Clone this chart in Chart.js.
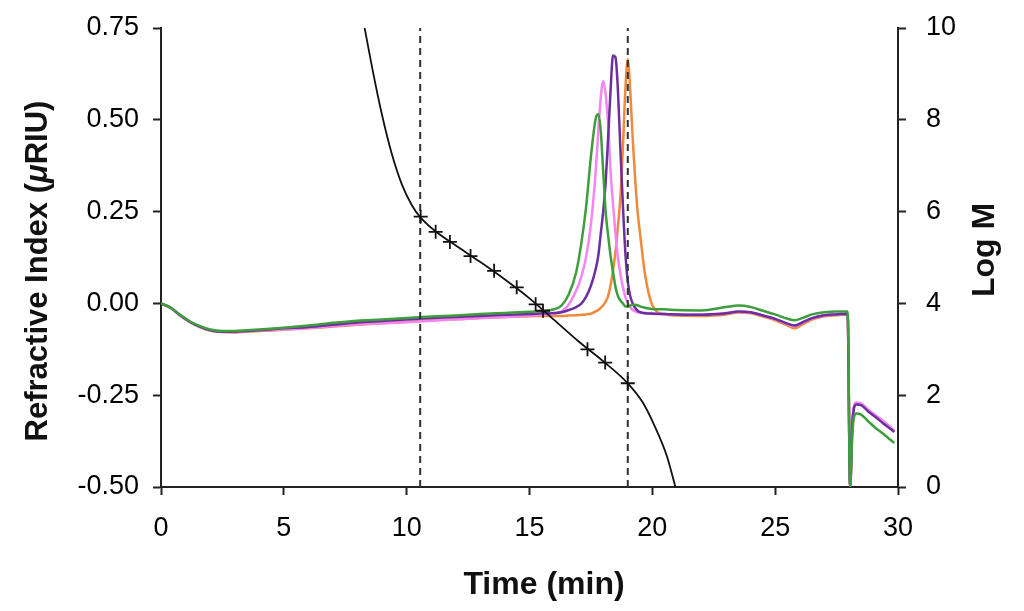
<!DOCTYPE html>
<html>
<head>
<meta charset="utf-8">
<script src="https://cdn.jsdelivr.net/npm/chart.js@4.4.1/dist/chart.umd.min.js"></script>
<style>
  html, body { margin: 0; padding: 0; background: #fff; }
  #wrap { width: 1024px; height: 611px; position: relative; }
</style>
</head>
<body>
<div id="wrap"><canvas id="gpcChart"></canvas></div>
<script>
// elution time grid (min), shared by the four RI traces
const times = [0, 0.4, 0.8, 1.2, 1.6, 2, 2.5, 3, 3.5, 4,
  5, 6, 7, 8, 9, 10, 11, 12, 13, 14,
  15, 15.5, 16, 16.3, 16.6, 16.9, 17.1, 17.3, 17.5, 17.7,
  17.8, 17.9, 18.0, 18.1, 18.2, 18.3, 18.4, 18.5, 18.6, 18.7,
  18.8, 18.9, 19.0, 19.1, 19.2, 19.3, 19.4, 19.5, 19.7, 20,
  20.5, 21, 22, 23, 23.5, 24, 24.5, 25, 25.5, 25.8,
  26.1, 26.5, 27, 27.5, 27.95, 28.05, 28.15, 28.3, 28.5, 28.8,
  29.1, 29.4, 29.7, 29.85];

// refractive index traces (uRIU)
const riGreen = [0, -0.012, -0.032, -0.05, -0.062, -0.071, -0.075, -0.075, -0.073, -0.071,
  -0.066, -0.06, -0.053, -0.047, -0.044, -0.04, -0.036, -0.033, -0.029, -0.026,
  -0.023, -0.021, -0.016, -0.006, 0.025, 0.085, 0.16, 0.26, 0.40, 0.505,
  0.515, 0.47, 0.36, 0.25, 0.185, 0.13, 0.085, 0.045, 0.02, 0.008,
  0.0, -0.008, -0.009, -0.006, -0.004, -0.004, -0.005, -0.008, -0.012, -0.015,
  -0.016, -0.018, -0.019, -0.01, -0.006, -0.01, -0.02, -0.03, -0.042, -0.046,
  -0.04, -0.03, -0.024, -0.022, -0.022, -0.5, -0.345, -0.3, -0.303, -0.322,
  -0.34, -0.355, -0.372, -0.38];
const riPink = [0, -0.013, -0.034, -0.052, -0.064, -0.073, -0.077, -0.078, -0.076, -0.074,
  -0.071, -0.067, -0.062, -0.057, -0.054, -0.051, -0.047, -0.044, -0.04, -0.037,
  -0.033, -0.031, -0.028, -0.022, -0.003, 0.035, 0.07, 0.125, 0.215, 0.365,
  0.47, 0.56, 0.605, 0.57, 0.49, 0.36, 0.27, 0.19, 0.125, 0.08,
  0.045, 0.018, 0.002, -0.01, -0.018, -0.022, -0.024, -0.025, -0.026, -0.027,
  -0.029, -0.03, -0.03, -0.026, -0.023, -0.025, -0.033, -0.043, -0.056, -0.062,
  -0.053, -0.041, -0.033, -0.03, -0.028, -0.5, -0.315, -0.27, -0.272, -0.29,
  -0.305, -0.32, -0.337, -0.347];
const riPurple = [0, -0.012, -0.033, -0.051, -0.064, -0.073, -0.077, -0.077, -0.075, -0.073,
  -0.068, -0.064, -0.058, -0.052, -0.048, -0.044, -0.04, -0.037, -0.034, -0.031,
  -0.029, -0.027, -0.026, -0.024, -0.018, -0.01, -0.001, 0.018, 0.048, 0.095,
  0.13, 0.19, 0.25, 0.33, 0.45, 0.58, 0.675, 0.67, 0.58, 0.42,
  0.27, 0.14, 0.06, 0.02, 0.0, -0.012, -0.02, -0.024, -0.027, -0.028,
  -0.029, -0.03, -0.031, -0.027, -0.022, -0.024, -0.033, -0.042, -0.055, -0.06,
  -0.052, -0.04, -0.032, -0.03, -0.028, -0.5, -0.32, -0.275, -0.277, -0.295,
  -0.31, -0.327, -0.342, -0.35];
const riOrange = [0, -0.013, -0.034, -0.052, -0.065, -0.074, -0.078, -0.079, -0.077, -0.075,
  -0.072, -0.068, -0.063, -0.058, -0.054, -0.05, -0.046, -0.043, -0.04, -0.037,
  -0.035, -0.034, -0.034, -0.034, -0.033, -0.032, -0.031, -0.03, -0.028, -0.022,
  -0.018, -0.012, -0.005, 0.005, 0.02, 0.05, 0.09, 0.14, 0.21, 0.29,
  0.42, 0.58, 0.665, 0.58, 0.45, 0.34, 0.25, 0.19, 0.08, -0.005,
  -0.03, -0.033, -0.034, -0.03, -0.025, -0.027, -0.036, -0.046, -0.06, -0.068,
  -0.058, -0.044, -0.035, -0.032, -0.03, -0.5, -0.318, -0.273, -0.275, -0.293,
  -0.308, -0.323, -0.34, -0.347];

// calibration curve (Log M vs time)
const calTimes = [8.29, 8.6, 9.0, 9.4, 9.8, 10.2, 10.55, 11.2, 12.0, 13.0,
  14.0, 15.0, 16.0, 17.0, 18.0, 19.0, 19.6, 20.1, 20.6, 20.94];
const calLogM = [10.0, 9.12, 8.1, 7.25, 6.6, 6.15, 5.88, 5.56, 5.26, 4.9,
  4.52, 4.11, 3.64, 3.17, 2.74, 2.26, 1.85, 1.32, 0.66, 0.0];

// calibration standards
const stdTimes = [10.57, 11.18, 11.76, 12.6, 13.56, 14.48, 15.25, 15.55, 17.36, 18.08, 19.0];
const stdLogM = [5.89, 5.56, 5.34, 5.03, 4.71, 4.35, 3.98, 3.84, 3.0, 2.71, 2.26];

// integration limits (min)
const limits = [10.55, 19.0];

const xTicks = [0, 5, 10, 15, 20, 25, 30];
const riTicks = [-0.5, -0.25, 0, 0.25, 0.5, 0.75];
const logMTicks = [0, 2, 4, 6, 8, 10];

const toPts = (xs, ys) => xs.map((x, i) => ({x: x, y: ys[i]}));
const FONT = '"Liberation Sans", Arial, Helvetica, sans-serif';

function trace(data, color) {
  return {data: toPts(times, data), borderColor: color, borderWidth: 2.5,
    pointRadius: 0, cubicInterpolationMode: 'monotone', fill: false, yAxisID: 'y'};
}

const datasets = [
  {data: toPts(stdTimes, stdLogM), showLine: false, pointStyle: 'cross',
    pointRadius: 7, pointBorderWidth: 1.8, pointBorderColor: '#111', yAxisID: 'y2'},
  {data: toPts(calTimes, calLogM), borderColor: '#111', borderWidth: 1.8,
    pointRadius: 0, cubicInterpolationMode: 'monotone', fill: false, yAxisID: 'y2'}
];
limits.forEach(t => datasets.push({
  data: [{x: t, y: riTicks[0]}, {x: t, y: riTicks[riTicks.length - 1]}],
  borderColor: '#333', borderWidth: 2, borderDash: [7, 5], pointRadius: 0, yAxisID: 'y'
}));
datasets.push(trace(riGreen, '#3e9e3e'));
datasets.push(trace(riPurple, '#6b2fa0'));
datasets.push(trace(riPink, '#f684f2'));
datasets.push(trace(riOrange, '#f08a3a'));

const titles = {
  id: 'titles',
  afterDraw(chart) {
    const ctx = chart.ctx;
    ctx.save();
    ctx.fillStyle = '#111';
    ctx.textBaseline = 'middle';
    ctx.font = 'bold 32px ' + FONT;
    ctx.textAlign = 'center';
    ctx.fillText('Time (min)', 544, 585);

    // left title, with italic mu
    const parts = [['Refractive Index (', 'bold 31px '], ['\u03bc', 'italic bold 31px '], ['RIU)', 'bold 31px ']];
    let total = 0;
    parts.forEach(p => { ctx.font = p[1] + FONT; total += ctx.measureText(p[0]).width; });
    ctx.save();
    ctx.translate(38, 271);
    ctx.rotate(-Math.PI / 2);
    ctx.textAlign = 'left';
    let x = -total / 2;
    parts.forEach(p => { ctx.font = p[1] + FONT; ctx.fillText(p[0], x, 0); x += ctx.measureText(p[0]).width; });
    ctx.restore();

    ctx.save();
    ctx.translate(985, 250);
    ctx.rotate(-Math.PI / 2);
    ctx.font = 'bold 32px ' + FONT;
    ctx.textAlign = 'center';
    ctx.fillText('Log M', 0, 0);
    ctx.restore();
    ctx.restore();
  }
};

const axisGrid = {drawOnChartArea: false, drawTicks: true, tickLength: 8, tickWidth: 2, tickColor: '#222'};
const axisBorder = {display: true, color: '#222', width: 2};

function fixY(width) {
  return function (s) { s.width = width; s.paddingTop = 0; s.paddingBottom = 0; };
}

new Chart(document.getElementById('gpcChart'), {
  type: 'line',
  data: {datasets: datasets},
  plugins: [titles],
  options: {
    responsive: true,
    maintainAspectRatio: false,
    animation: false,
    layout: {padding: {top: 28, left: 0, right: 0, bottom: 0}},
    plugins: {legend: {display: false}, tooltip: {enabled: false}},
    scales: {
      x: {
        type: 'linear', min: xTicks[0], max: xTicks[xTicks.length - 1],
        afterFit(s) { s.height = 124; s.paddingLeft = 0; s.paddingRight = 0; },
        afterBuildTicks(s) { s.ticks = xTicks.map(v => ({value: v})); },
        grid: axisGrid, border: axisBorder,
        ticks: {color: '#000', padding: 17, font: {family: FONT, size: 27}, maxRotation: 0}
      },
      y: {
        position: 'left', min: riTicks[0], max: riTicks[riTicks.length - 1],
        afterFit: fixY(161),
        afterBuildTicks(s) { s.ticks = riTicks.map(v => ({value: v})); },
        grid: axisGrid, border: axisBorder,
        ticks: {color: '#000', padding: 14, font: {family: FONT, size: 27}, callback: v => v.toFixed(2)}
      },
      y2: {
        position: 'right', min: logMTicks[0], max: logMTicks[logMTicks.length - 1],
        afterFit: fixY(126),
        afterBuildTicks(s) { s.ticks = logMTicks.map(v => ({value: v})); },
        grid: axisGrid, border: axisBorder,
        ticks: {color: '#000', padding: 20, font: {family: FONT, size: 27}}
      }
    }
  }
});
</script>
</body>
</html>
